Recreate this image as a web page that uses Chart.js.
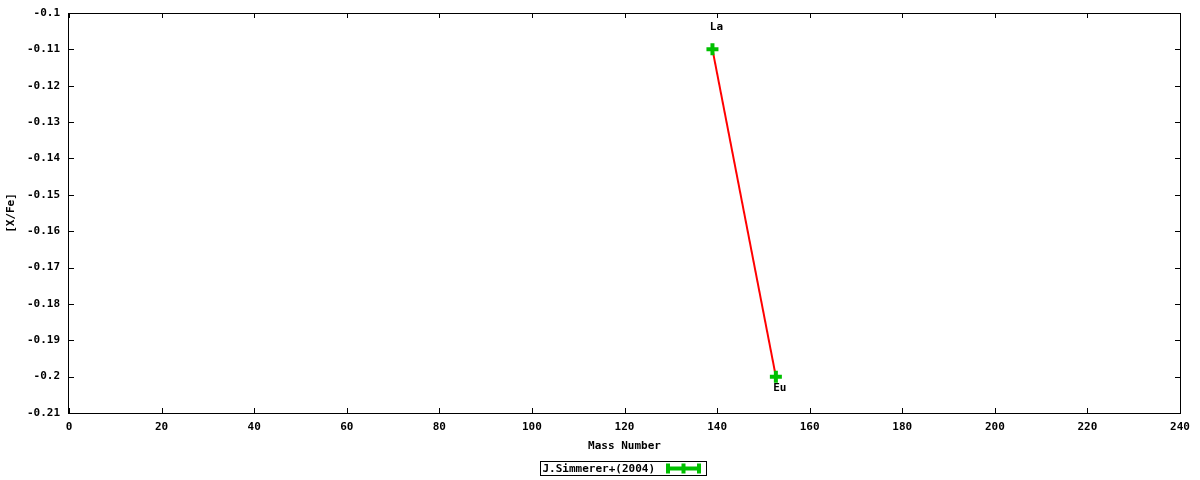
<!DOCTYPE html>
<html lang="en">
<head>
    <meta charset="UTF-8">
    <title>[X/Fe] vs Mass Number</title>
    <style>
        body {
            margin: 0;
            background-color: #ffffff;
        }
        #chartBox {
            width: 1200px;
            height: 480px;
        }
    </style>
</head>
<body>
    <div id="chartBox">
        <canvas id="abundanceChart" width="1200" height="480"></canvas>
    </div>

    <script src="https://cdn.jsdelivr.net/npm/chart.js"></script>
    <script>
        // Data
        const elements = ['La', 'Eu'];
        const massNumbers = [139, 152.7];
        const ratios = [-0.11, -0.2];
        const seriesLabel = 'J.Simmerer+(2004)';

        // Axis ranges
        const xRange = [0, 240];
        const xStep = 20;
        const yRange = [-0.21, -0.1];
        const yStep = 0.01;

        const monoFont = { family: "'DejaVu Sans Mono', monospace", size: 11, weight: 'bold' };
        const green = '#00c000';
        const labelOffsets = [[4, -22], [4, 12]]; // label placement relative to each point

        // Draws the framed box, inward ticks on all sides, point labels and the legend
        const gnuplotFrame = {
            id: 'gnuplotFrame',
            afterDraw(chart) {
                const { ctx, chartArea: area, scales } = chart;
                const tick = 5;
                ctx.save();
                ctx.strokeStyle = '#000';
                ctx.lineWidth = 1;
                ctx.strokeRect(area.left - 0.5, area.top + 0.5, area.right - area.left + 1, area.bottom - area.top);

                ctx.beginPath();
                scales.x.ticks.forEach((t, i) => {
                    const px = Math.round(scales.x.getPixelForTick(i)) + 0.5;
                    ctx.moveTo(px, area.bottom); ctx.lineTo(px, area.bottom - tick);
                    ctx.moveTo(px, area.top); ctx.lineTo(px, area.top + tick);
                });
                scales.y.ticks.forEach((t, i) => {
                    const py = Math.round(scales.y.getPixelForTick(i)) + 0.5;
                    ctx.moveTo(area.left, py); ctx.lineTo(area.left + tick, py);
                    ctx.moveTo(area.right, py); ctx.lineTo(area.right - tick, py);
                });
                ctx.stroke();

                // element labels next to the points
                ctx.font = `bold ${monoFont.size}px ${monoFont.family}`;
                ctx.fillStyle = '#000';
                ctx.textAlign = 'center';
                ctx.textBaseline = 'middle';
                elements.forEach((name, i) => {
                    const px = scales.x.getPixelForValue(massNumbers[i]);
                    const py = scales.y.getPixelForValue(ratios[i]);
                    ctx.fillText(name, px + labelOffsets[i][0], py + labelOffsets[i][1]);
                });

                // legend
                const boxLeft = 540.5, boxTop = 461.5, boxW = 166, boxH = 14;
                ctx.fillStyle = '#fff';
                ctx.fillRect(boxLeft, boxTop, boxW, boxH);
                ctx.strokeStyle = '#000';
                ctx.lineWidth = 1;
                ctx.strokeRect(boxLeft, boxTop, boxW, boxH);
                ctx.fillStyle = '#000';
                ctx.textAlign = 'left';
                ctx.fillText(seriesLabel, boxLeft + 2, boxTop + boxH / 2 + 1);

                const sx1 = 666, sx2 = 701, sy = boxTop + boxH / 2;
                ctx.strokeStyle = green;
                ctx.lineWidth = 4;
                ctx.beginPath();
                ctx.moveTo(sx1, sy); ctx.lineTo(sx2, sy);
                ctx.moveTo(sx1 + 2, sy - 5); ctx.lineTo(sx1 + 2, sy + 5);
                ctx.moveTo(sx2 - 2, sy - 5); ctx.lineTo(sx2 - 2, sy + 5);
                ctx.moveTo((sx1 + sx2) / 2, sy - 5); ctx.lineTo((sx1 + sx2) / 2, sy + 5);
                ctx.stroke();
                ctx.restore();
            }
        };

        const ctx = document.getElementById('abundanceChart').getContext('2d');
        new Chart(ctx, {
            type: 'line',
            data: {
                datasets: [{
                    label: seriesLabel,
                    data: massNumbers.map((m, i) => ({ x: m, y: ratios[i] })),
                    borderColor: '#ff0000',
                    borderWidth: 2,
                    pointStyle: 'cross',
                    pointRadius: 6,
                    pointBorderWidth: 4,
                    pointBorderColor: green,
                    pointBackgroundColor: green,
                    tension: 0,
                    fill: false
                }]
            },
            options: {
                responsive: false,
                animation: false,
                layout: {
                    padding: { top: 13, right: 20, left: 0, bottom: 26 }
                },
                scales: {
                    x: {
                        type: 'linear',
                        min: xRange[0],
                        max: xRange[1],
                        afterFit: scale => {
                            scale.height = 41;
                            scale.paddingLeft = 0;
                            scale.paddingRight = 0;
                        },
                        ticks: {
                            stepSize: xStep,
                            color: '#000',
                            font: monoFont,
                            padding: 8,
                            maxRotation: 0
                        },
                        grid: { display: false, drawTicks: false },
                        border: { display: false },
                        title: {
                            display: true,
                            text: 'Mass Number',
                            color: '#000',
                            font: monoFont,
                            padding: { top: 0, bottom: 1 }
                        }
                    },
                    y: {
                        min: yRange[0],
                        max: yRange[1],
                        afterFit: scale => {
                            scale.width = 69;
                            scale.paddingTop = 0;
                            scale.paddingBottom = 0;
                        },
                        ticks: {
                            stepSize: yStep,
                            color: '#000',
                            font: monoFont,
                            padding: 9,
                            callback: v => String(Number(v.toFixed(2)))
                        },
                        grid: { display: false, drawTicks: false },
                        border: { display: false },
                        title: {
                            display: true,
                            text: '[X/Fe]',
                            color: '#000',
                            font: monoFont,
                            padding: { top: 5, bottom: 0 }
                        }
                    }
                },
                plugins: {
                    legend: { display: false },
                    tooltip: { enabled: false }
                }
            },
            plugins: [gnuplotFrame]
        });
    </script>
</body>
</html>
